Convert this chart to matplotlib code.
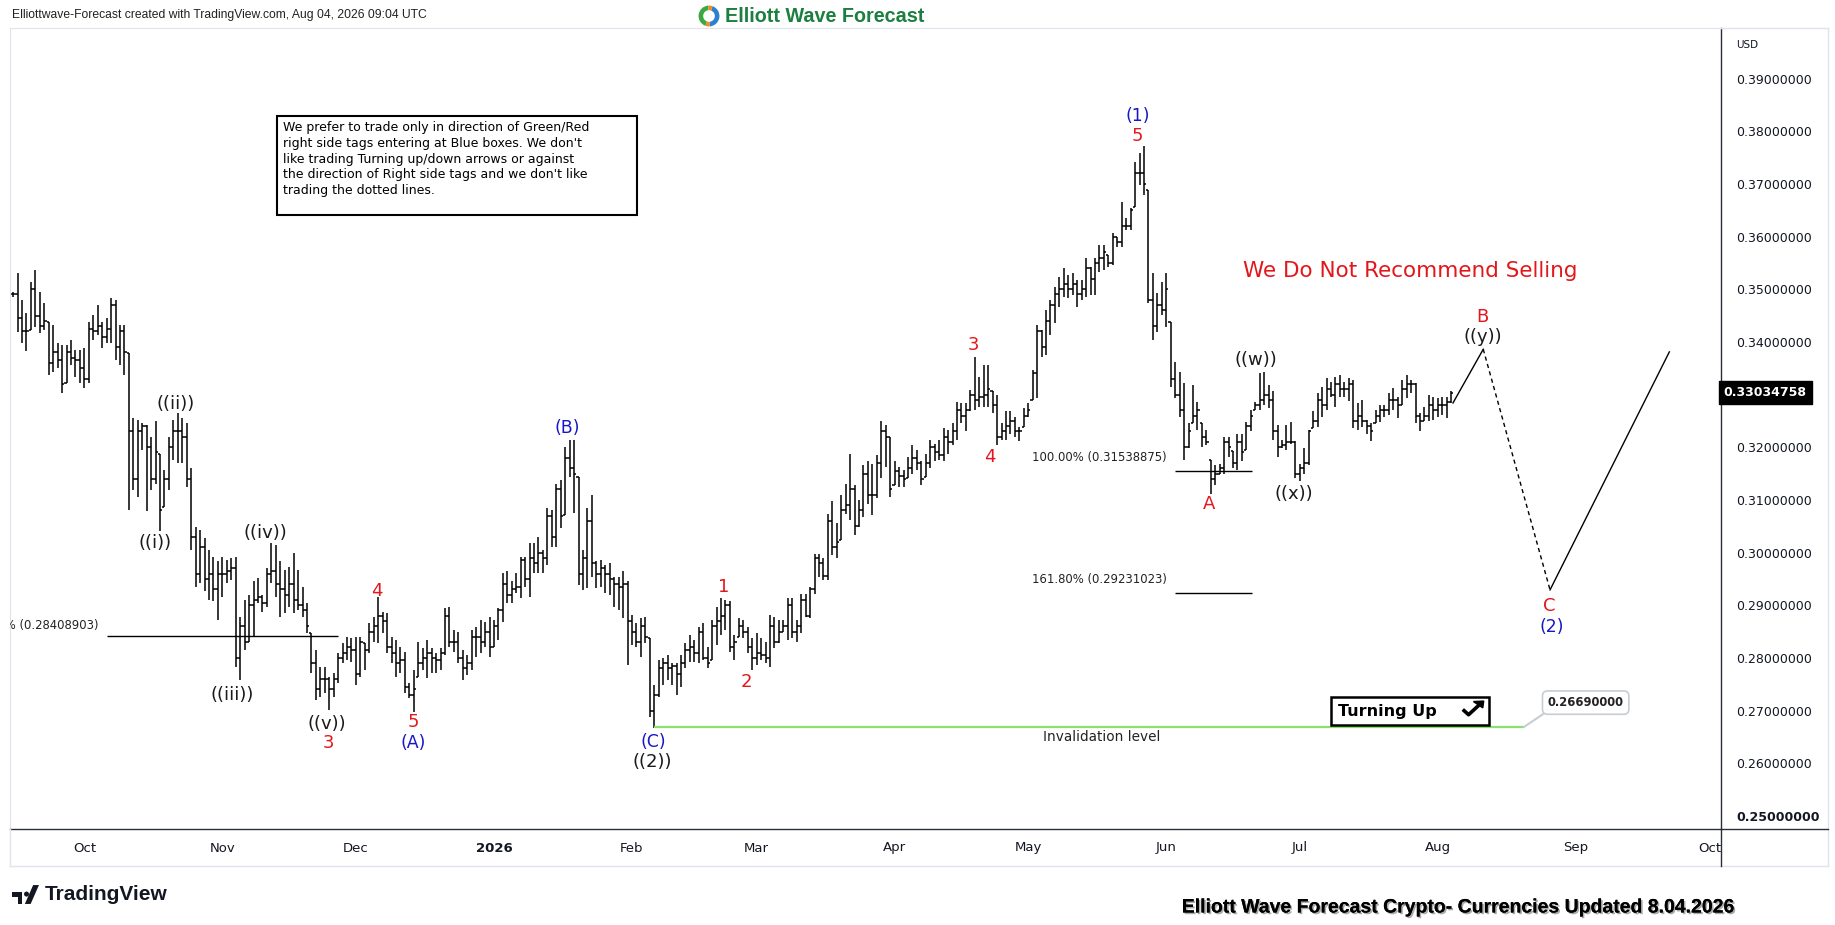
import numpy as np
import pandas as pd
import matplotlib
matplotlib.use('Agg')
import matplotlib.pyplot as plt
import matplotlib.dates as mdates
import matplotlib.patheffects as pe
from matplotlib.patches import Rectangle, Wedge, Polygon, Circle
from matplotlib.lines import Line2D
from matplotlib.transforms import blended_transform_factory

plt.rcParams['font.family'] = ['DejaVu Sans']

# daily OHLC bars from 2025-09-15 to 2026-08-04, prices in units of 0.0001
FIRST_BAR = '2025-09-15'
HIGH = [
    3495, 3530, 3480, 3454, 3514, 3537, 3495, 3473, 3438, 3432, 3397, 3394, 3394, 3404, 3385, 3385, 3388, 3438, 3451, 3470,
    3438, 3445, 3483, 3480, 3432, 3432, 3378, 3255, 3252, 3245, 3242, 3220, 3249, 3188, 3157, 3220, 3252, 3264, 3255, 3245,
    3160, 3049, 3043, 3027, 3005, 2992, 2983, 2992, 2986, 2989, 2992, 2878, 2910, 2919, 2945, 2951, 2919, 2970, 3018, 3014,
    2983, 2967, 2973, 2999, 2967, 2935, 2904, 2847, 2815, 2783, 2783, 2764, 2771, 2809, 2828, 2840, 2837, 2840, 2840, 2828,
    2866, 2878, 2915,
    2888, 2885, 2840, 2834, 2821, 2812, 2752, 2777, 2831, 2818, 2834, 2818, 2809, 2818, 2894, 2897, 2853, 2850, 2815, 2806,
    2853, 2859, 2872, 2869, 2878, 2872, 2894, 2961, 2964, 2945, 2961, 2992, 2992, 3018, 3018, 3030, 3005, 3084, 3081, 3131,
    3138, 3201, 3214, 3214, 3144, 3005, 3084, 3109, 2983, 2986, 2976, 2980, 2954, 2954, 2964, 2945, 2881, 2866, 2875, 2878,
    2837, 2749, 2796, 2799, 2806, 2790, 2790, 2806, 2828, 2844, 2834, 2859, 2866, 2821, 2872, 2897, 2913, 2910, 2907, 2844,
    2875,
    2872, 2859, 2837, 2847, 2837, 2831, 2881, 2878, 2872, 2872, 2913, 2913, 2872, 2922, 2922, 2935, 2998, 2998, 2989, 3074,
    3097, 3056, 3109, 3131, 3188, 3128, 3100, 3166, 3173, 3169, 3185, 3249, 3242, 3220, 3173, 3163, 3157, 3182, 3204, 3195,
    3173, 3188, 3214, 3207, 3214, 3236, 3233, 3245, 3286, 3283, 3283, 3309, 3372, 3334, 3356, 3356, 3306, 3299, 3245, 3268,
    3268, 3258, 3239, 3274, 3283, 3347, 3432, 3423, 3461, 3480, 3505, 3524, 3540, 3527, 3530, 3518, 3518, 3559, 3543, 3559,
    3584,
    3584, 3565, 3606, 3600, 3666, 3635, 3654, 3742, 3758, 3771, 3688, 3530, 3492, 3514, 3530, 3438, 3362, 3343, 3321, 3245,
    3318, 3286, 3245, 3233, 3176, 3166, 3169, 3220, 3220, 3192, 3226, 3226, 3248, 3271, 3286, 3340, 3343, 3318, 3306, 3242,
    3214, 3242, 3248, 3211, 3169, 3198, 3233, 3268, 3302, 3315, 3331, 3324, 3334, 3337, 3324, 3331, 3328, 3283, 3290, 3252,
    3245, 3271, 3280, 3280, 3302, 3312, 3296, 3328, 3337, 3328, 3321, 3264, 3277, 3299, 3296, 3293, 3296, 3296, 3306,
]
LOW = [
    3486, 3419, 3397, 3382, 3423, 3429, 3416, 3423, 3337, 3343, 3350, 3302, 3321, 3356, 3334, 3321, 3312, 3321, 3404, 3413,
    3388, 3397, 3397, 3366, 3356, 3337, 3081, 3119, 3106, 3195, 3078, 3119, 3131, 3040, 3087, 3119, 3176, 3170, 3170, 3125,
    3005, 2935, 2942, 2926, 2910, 2907, 2872, 2916, 2942, 2948, 2783, 2758, 2815, 2831, 2840, 2904, 2888, 2897, 2942, 2916,
    2878, 2885, 2897, 2885, 2891, 2878, 2847, 2771, 2720, 2726, 2733, 2701, 2726, 2752, 2790, 2796, 2793, 2749, 2764, 2777,
    2809, 2831, 2828,
    2847, 2809, 2790, 2764, 2771, 2733, 2723, 2698, 2764, 2777, 2761, 2771, 2771, 2777, 2806, 2821, 2812, 2790, 2758, 2768,
    2777, 2802, 2809, 2821, 2802, 2821, 2834, 2869, 2904, 2904, 2923, 2913, 2935, 2916, 2961, 2961, 2961, 2976, 3011, 3011,
    3046, 3071, 3144, 3075, 2938, 2929, 2932, 2954, 2932, 2935, 2923, 2919, 2897, 2891, 2875, 2787, 2825, 2821, 2802, 2828,
    2688, 2666, 2726, 2749, 2758, 2749, 2730, 2745, 2780, 2793, 2793, 2790, 2796, 2780, 2796, 2825, 2844, 2853, 2812, 2796,
    2840,
    2837, 2809, 2777, 2787, 2796, 2790, 2783, 2818, 2828, 2850, 2834, 2837, 2831, 2847, 2878, 2875, 2922, 2954, 2948, 2948,
    2995, 2989, 3024, 3074, 3062, 3033, 3049, 3068, 3093, 3071, 3103, 3141, 3163, 3106, 3128, 3125, 3125, 3141, 3150, 3157,
    3128, 3144, 3160, 3173, 3176, 3173, 3188, 3204, 3214, 3245, 3230, 3268, 3271, 3277, 3277, 3277, 3264, 3204, 3214, 3214,
    3226, 3220, 3211, 3239, 3258, 3290, 3293, 3372, 3375, 3413, 3435, 3467, 3486, 3483, 3489, 3467, 3480, 3486, 3489, 3489,
    3533,
    3537, 3543, 3546, 3581, 3581, 3612, 3612, 3657, 3698, 3679, 3473, 3404, 3419, 3451, 3429, 3315, 3293, 3258, 3176, 3198,
    3245, 3233, 3201, 3204, 3112, 3128, 3150, 3150, 3182, 3160, 3157, 3173, 3195, 3230, 3271, 3271, 3280, 3274, 3214, 3182,
    3198, 3195, 3207, 3141, 3135, 3150, 3166, 3236, 3239, 3258, 3271, 3296, 3277, 3296, 3296, 3287, 3236, 3233, 3239, 3226,
    3211, 3245, 3248, 3258, 3261, 3271, 3255, 3280, 3293, 3302, 3245, 3230, 3249, 3249, 3252, 3258, 3261, 3255, 3283,
]
CLOSE = [
    3490, 3445, 3420, 3420, 3500, 3450, 3430, 3440, 3360, 3380, 3365, 3320, 3380, 3370, 3365, 3350, 3330, 3425, 3420, 3430,
    3410, 3425, 3470, 3390, 3420, 3380, 3230, 3140, 3230, 3240, 3200, 3140, 3190, 3080, 3140, 3200, 3230, 3230, 3220, 3140,
    3030, 2960, 3010, 2950, 2960, 2930, 2960, 2960, 2965, 2970, 2800, 2860, 2830, 2900, 2910, 2915, 2905, 2960, 2965, 2940,
    2930, 2920, 2940, 2910, 2900, 2890, 2860, 2790, 2740, 2760, 2760, 2740, 2760, 2800, 2810, 2820, 2815, 2770, 2830, 2815,
    2850, 2860, 2880,
    2870, 2820, 2810, 2790, 2795, 2745, 2730, 2740, 2790, 2800, 2810, 2800, 2795, 2810, 2880, 2830, 2830, 2800, 2780, 2790,
    2840, 2840, 2830, 2850, 2820, 2860, 2890, 2940, 2920, 2930, 2935, 2985, 2950, 2990, 2980, 3000, 2990, 3070, 3030, 3120,
    3070, 3180, 3160, 3150, 2960, 2990, 3060, 2980, 2960, 2970, 2960, 2950, 2940, 2935, 2940, 2870, 2850, 2830, 2860, 2840,
    2700, 2730, 2780, 2790, 2780, 2785, 2770, 2790, 2815, 2820, 2810, 2850, 2800, 2790, 2860, 2870, 2880, 2900, 2820, 2830,
    2860,
    2850, 2820, 2800, 2810, 2805, 2800, 2860, 2830, 2850, 2860, 2900, 2850, 2860, 2910, 2880, 2930, 2990, 2980, 2955, 3060,
    3010, 3020, 3080, 3090, 3120, 3050, 3080, 3150, 3110, 3110, 3170, 3230, 3220, 3120, 3155, 3145, 3140, 3160, 3180, 3170,
    3140, 3170, 3200, 3190, 3185, 3220, 3210, 3230, 3270, 3260, 3270, 3300, 3290, 3295, 3300, 3310, 3280, 3220, 3230, 3240,
    3250, 3230, 3230, 3260, 3270, 3340, 3420, 3390, 3440, 3470, 3490, 3500, 3510, 3500, 3510, 3490, 3500, 3540, 3520, 3550,
    3560,
    3570, 3550, 3600, 3590, 3620, 3620, 3650, 3720, 3720, 3700, 3480, 3430, 3470, 3460, 3500, 3330, 3300, 3270, 3200, 3230,
    3260, 3270, 3220, 3210, 3140, 3150, 3160, 3210, 3200, 3170, 3210, 3190, 3240, 3260, 3280, 3290, 3300, 3290, 3230, 3200,
    3205, 3210, 3210, 3150, 3160, 3170, 3230, 3250, 3290, 3280, 3310, 3300, 3320, 3310, 3310, 3320, 3250, 3260, 3250, 3240,
    3230, 3260, 3270, 3270, 3290, 3290, 3280, 3310, 3320, 3320, 3260, 3250, 3260, 3280, 3270, 3280, 3280, 3285, 3303.4758,
]

# wave labels: text, day after 2025-10-01, price
BLACK_LABELS = ['((i))', '((ii))', '((iii))', '((iv))', '((v))', '((2))', '((w))', '((x))', '((y))']
BLACK_DAYS = [15.9, 20.4, 33.1, 40.7, 54.4, 127.5, 263.2, 271.7, 314.2]
BLACK_PRICES = [0.3018, 0.3282, 0.2730, 0.3038, 0.2675, 0.2602, 0.3366, 0.3111, 0.3410]
RED_LABELS = ['3', '4', '5', '1', '2', '3', '4', '5', 'A', 'B', 'C']
RED_DAYS = [54.8, 65.8, 73.9, 143.7, 148.6, 199.7, 203.4, 236.5, 252.7, 313.9, 329.0]
RED_PRICES = [0.2638, 0.2926, 0.2679, 0.2934, 0.2755, 0.3394, 0.3182, 0.3790, 0.3092, 0.3448, 0.2898]
BLUE_LABELS = ['(A)', '(B)', '(C)', '(1)', '(2)']
BLUE_DAYS = [73.9, 108.5, 127.7, 236.5, 329.5]
BLUE_PRICES = [0.2638, 0.3236, 0.2640, 0.3829, 0.2858]

# projected path (day, price)
PATH_DAYS = [307.4, 314.2, 329.2, 356.0]
PATH_PRICES = [0.3284, 0.3386, 0.2929, 0.3381]

FIB_LEVELS = [0.31538875, 0.29231023, 0.28408903]
FIB_TEXT = ['100.00% (0.31538875)', '161.80% (0.29231023)', '100.00% (0.28408903)']
INVALIDATION = 0.2669
LAST_PRICE = 0.33034758

MONTHS = ['2025-10-01', '2025-11-01', '2025-12-01', '2026-01-01', '2026-02-01', '2026-03-01', '2026-04-01',
          '2026-05-01', '2026-06-01', '2026-07-01', '2026-08-01', '2026-09-01', '2026-10-01']
MONTH_LABELS = ['Oct', 'Nov', 'Dec', '2026', 'Feb', 'Mar', 'Apr', 'May', 'Jun', 'Jul', 'Aug', 'Sep', 'Oct']

W, H = 1835, 925
AX_L, AX_R, AX_T, AX_B = 10, 1721, 28, 829
PANE_R, PANE_B = 1828, 866
RED = '#e3161b'
BLUE = '#1717c9'
INK = '#131722'


def fx(px):
    return px / W


def fy(py):
    return 1 - py / H


ORIGIN = mdates.date2num(pd.Timestamp('2025-10-01'))


def at(day):
    return ORIGIN + day


fig = plt.figure(figsize=(W / 100, H / 100), dpi=100)
ax = fig.add_axes([fx(AX_L), fy(AX_B), fx(AX_R) - fx(AX_L), fy(AX_T) - fy(AX_B)])

# OHLC bars
x = mdates.date2num(pd.date_range(FIRST_BAR, periods=len(HIGH), freq='D'))
hi = np.array(HIGH) / 1e4
lo = np.array(LOW) / 1e4
cl = np.array(CLOSE) / 1e4
op = np.clip(np.r_[cl[0], cl[:-1]], lo, hi)
ax.vlines(x, lo, hi, color='black', lw=1.1)
ax.hlines(op, x - 0.5, x, color='black', lw=1.1)
ax.hlines(cl, x, x + 0.5, color='black', lw=1.1)

ax.set_xlim(at(-16.7), at(367.6))
ax.set_ylim(0.2475, 0.3996)

# axes styling (the 0.33 label sits under the last-price tag)
yt = np.round(np.arange(0.25, 0.3901, 0.01), 2)
ax.yaxis.tick_right()
ax.set_yticks(yt)
ax.set_yticklabels(['' if abs(v - 0.33) < 1e-9 else f'{v:.8f}' for v in yt])
ax.tick_params(axis='y', length=0, pad=11, labelsize=9, labelcolor=INK)
ax.get_yticklabels()[0].set_fontweight('bold')
ax.set_xticks([mdates.date2num(pd.Timestamp(m)) for m in MONTHS])
ax.set_xticklabels(MONTH_LABELS)
ax.tick_params(axis='x', length=0, pad=9, labelsize=9.5, labelcolor=INK)
ax.get_xticklabels()[3].set_fontweight('bold')
for s in ['left', 'top']:
    ax.spines[s].set_color('#e0e3eb')
for s in ['bottom', 'right']:
    ax.spines[s].set_color('#2a2e39')
    ax.spines[s].set_linewidth(1.0)

# wave labels
for t, d, p in zip(BLACK_LABELS, BLACK_DAYS, BLACK_PRICES):
    ax.text(at(d), p, t, color='#1a1a1a', fontsize=13, ha='center', va='center')
for t, d, p in zip(RED_LABELS, RED_DAYS, RED_PRICES):
    ax.text(at(d), p, t, color=RED, fontsize=13, ha='center', va='center')
for t, d, p in zip(BLUE_LABELS, BLUE_DAYS, BLUE_PRICES):
    ax.text(at(d), p, t, color=BLUE, fontsize=12.5, ha='center', va='center')

# fibonacci levels
ax.hlines(FIB_LEVELS[0], at(244.9), at(262.3), color='black', lw=1)
ax.hlines(FIB_LEVELS[1], at(244.9), at(262.3), color='black', lw=1)
ax.hlines(FIB_LEVELS[2], at(5.0), at(57.0), color='black', lw=1)
ax.text(at(243.1), 0.3180, FIB_TEXT[0], fontsize=8.4, color='#222222', ha='right', va='center')
ax.text(at(243.1), 0.2948, FIB_TEXT[1], fontsize=8.4, color='#222222', ha='right', va='center')
ax.text(at(3.1), 0.2861, FIB_TEXT[2], fontsize=8.4, color='#222222', ha='right', va='center', clip_on=True)

# invalidation line
ax.hlines(INVALIDATION, at(128), at(323.4), color='#8ee06e', lw=1.6)
ax.text(at(228.6), 0.2649, 'Invalidation level', fontsize=9.8, color='#222222', ha='center', va='center')
ax.plot([at(323.4), at(327.6)], [INVALIDATION, 0.2693], color='#c8ccd4', lw=1.5)
ax.text(at(337.2), 0.2715, '0.26690000', fontsize=8.3, fontweight='bold', color='#222222', ha='center',
        va='center', bbox=dict(boxstyle='round,pad=0.45', fc='white', ec='#c8ccd4', lw=1.2))

# projected path
ax.plot([at(d) for d in PATH_DAYS[:2]], PATH_PRICES[:2], color='black', lw=1)
ax.plot([at(d) for d in PATH_DAYS[1:3]], PATH_PRICES[1:3], color='black', lw=1, ls=(0, (3, 2.5)))
ax.plot([at(d) for d in PATH_DAYS[2:]], PATH_PRICES[2:], color='black', lw=1)

# turning up box
ax.add_patch(Rectangle((at(280), 0.2672), at(315.5) - at(280), 0.0053, fc='white', ec='black', lw=1.8, zorder=4))
ax.text(at(281.6), 0.26985, 'Turning Up', fontsize=11.5, fontweight='bold', color='black', va='center', zorder=5)
ax.plot([at(309.6), at(310.9), at(313.6)], [0.2702, 0.2692, 0.2713], color='black', lw=2.6, zorder=5,
        solid_capstyle='butt')
ax.add_patch(Polygon([[at(314.3), 0.2718], [at(312.0), 0.2717], [at(314.1), 0.2705]], closed=True, fc='black',
                     ec='black', zorder=5))

# big red note
ax.text(at(297.9), 0.3535, 'We Do Not Recommend Selling', fontsize=15.5, color=RED, ha='center', va='center')

# info box
fig.add_artist(Rectangle((fx(277), fy(215)), fx(637) - fx(277), fy(116) - fy(215), transform=fig.transFigure,
                         fill=False, ec='black', lw=1.5))
fig.text(fx(283), fy(121),
         "We prefer to trade only in direction of Green/Red\n"
         "right side tags entering at Blue boxes. We don't\n"
         "like trading Turning up/down arrows or against\n"
         "the direction of Right side tags and we don't like\n"
         "trading the dotted lines.",
         fontsize=9, color='black', va='top', ha='left', linespacing=1.28)

# last price tag and currency
ax.text(1.0015, LAST_PRICE, '0.33034758', transform=blended_transform_factory(ax.transAxes, ax.transData),
        color='white', fontsize=9, fontweight='bold', va='center', ha='left', clip_on=False,
        bbox=dict(boxstyle='square,pad=0.4', fc='black', ec='black'))
fig.text(fx(1736), fy(45), 'USD', fontsize=7.5, color=INK, va='center')

# pane frame
frame = '#e0e3eb'
fig.add_artist(Line2D([fx(AX_L), fx(PANE_R)], [fy(PANE_B), fy(PANE_B)], color=frame, lw=1))
fig.add_artist(Line2D([fx(AX_L), fx(AX_L)], [fy(AX_B), fy(PANE_B)], color=frame, lw=1))
fig.add_artist(Line2D([fx(PANE_R), fx(PANE_R)], [fy(AX_T), fy(PANE_B)], color=frame, lw=1))
fig.add_artist(Line2D([fx(AX_R), fx(PANE_R)], [fy(AX_T), fy(AX_T)], color=frame, lw=1))
fig.add_artist(Line2D([fx(AX_R), fx(PANE_R)], [fy(AX_B), fy(AX_B)], color='#2a2e39', lw=1))
fig.add_artist(Line2D([fx(AX_R), fx(AX_R)], [fy(AX_B), fy(PANE_B)], color='#2a2e39', lw=1))

# header
fig.text(fx(12), fy(15), 'Elliottwave-Forecast created with TradingView.com, Aug 04, 2026 09:04 UTC',
         fontsize=8.7, color='#222222', va='center', family=['Liberation Sans Narrow', 'Liberation Sans', 'DejaVu Sans'])
fig.text(fx(725), fy(16), 'Elliott Wave Forecast', fontsize=14.2, fontweight='bold', color='#1b7f3e',
         va='center', family=['Liberation Sans', 'DejaVu Sans'])
lax = fig.add_axes([fx(698), fy(27), fx(22), fx(22) * W / H])
lax.set_xlim(-1, 1)
lax.set_ylim(-1, 1)
lax.set_aspect('equal')
lax.axis('off')
lax.add_patch(Wedge((0, 0), 0.95, 95, 250, width=0.42, fc='#3aa845'))
lax.add_patch(Wedge((0, 0), 0.95, 275, 70, width=0.42, fc='#2e7fd0'))
lax.add_patch(Wedge((0, 0), 0.95, 250, 275, width=0.42, fc='#f08a24'))
lax.add_patch(Wedge((0, 0), 0.95, 70, 95, width=0.42, fc='#f08a24'))

# footer
tv = fig.add_axes([fx(12), fy(905), fx(28), fx(28) * W / H * 0.75])
tv.set_xlim(0, 1.35)
tv.set_ylim(0, 1)
tv.axis('off')
tv.add_patch(Polygon([[0, 0.62], [0.5, 0.62], [0.5, 0.05], [0.27, 0.05], [0.27, 0.38], [0, 0.38]], fc='#131722'))
tv.add_patch(Circle((0.7, 0.52), 0.12, fc='#131722'))
tv.add_patch(Polygon([[0.62, 0.05], [0.9, 0.05], [1.3, 0.95], [1.02, 0.95]], fc='#131722'))
fig.text(fx(45), fy(895), 'TradingView', fontsize=15, fontweight='bold', color='#131722', va='center',
         family=['Liberation Sans', 'DejaVu Sans'])
fig.text(fx(1735), fy(908), 'Elliott Wave Forecast Crypto- Currencies Updated 8.04.2026', fontsize=14,
         fontweight='bold', color='black', ha='right', va='center', family=['Liberation Sans', 'DejaVu Sans'],
         path_effects=[pe.withSimplePatchShadow(offset=(1.2, -1.2), shadow_rgbFace='#888888', alpha=0.7),
                       pe.Normal()])

fig.savefig('out.png', dpi=100, facecolor='white')
